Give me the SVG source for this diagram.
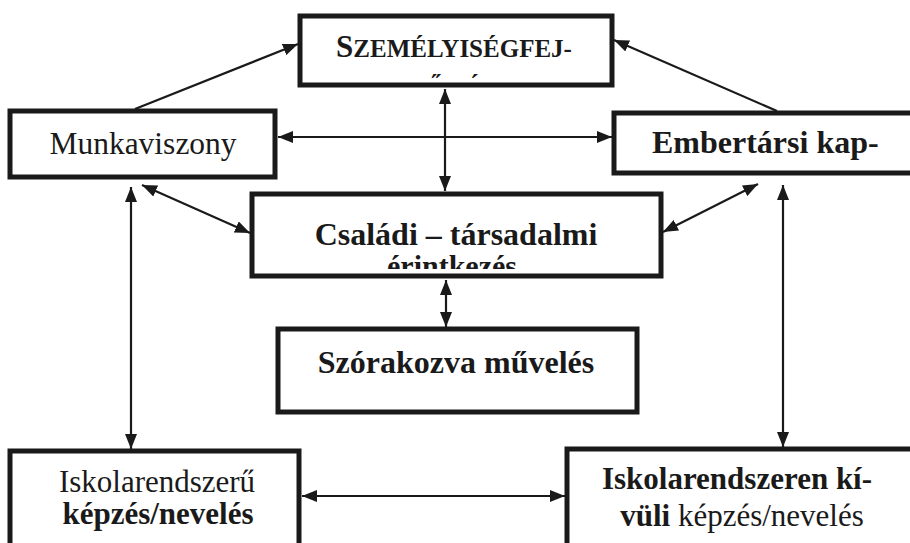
<svg xmlns="http://www.w3.org/2000/svg" width="910" height="543" viewBox="0 0 910 543">
<style>
.box{fill:#fff;stroke:#1a1a1a;stroke-width:5}
.t{font-family:"Liberation Serif","Times New Roman",serif;fill:#1a1a1a}
.b{font-weight:bold}
.c line{stroke:#1a1a1a;stroke-width:2.2}
</style>
<defs>
<marker id="ah" viewBox="0 0 15 12" refX="15" refY="6" markerWidth="15" markerHeight="12" orient="auto-start-reverse" markerUnits="userSpaceOnUse"><path d="M0,0 L15,6 L0,12 Z" fill="#1a1a1a"/></marker>
<clipPath id="cp1"><rect x="300" y="16" width="312" height="62.5"/></clipPath>
<clipPath id="cp2"><rect x="252" y="194" width="409" height="75"/></clipPath>
</defs>
<rect width="910" height="543" fill="#fff"/>
<g id="szemelyiseg">
<rect class="box" x="300" y="16" width="312" height="69"/>
<text class="t b" x="454" y="57" text-anchor="middle" font-size="25"><tspan font-size="31">S</tspan>ZEMÉLYISÉGFEJ-</text>
<text class="t b" x="453" y="96" text-anchor="middle" font-size="25" letter-spacing="1.5" clip-path="url(#cp1)">LŐDÉS</text>
</g>
<g id="munkaviszony">
<rect class="box" x="10" y="111" width="265" height="66"/>
<text class="t" x="143" y="154" text-anchor="middle" font-size="31.5">Munkaviszony</text>
</g>
<g id="embertarsi">
<rect class="box" x="614" y="113" width="305" height="60"/>
<text class="t b" x="652" y="153" font-size="32">Embertársi kap-</text>
</g>
<g id="csaladi">
<rect class="box" x="252" y="194" width="409" height="82"/>
<text class="t b" x="456" y="245" text-anchor="middle" font-size="32">Családi – társadalmi</text>
<text class="t b" x="452" y="276" text-anchor="middle" font-size="30" clip-path="url(#cp2)">érintkezés</text>
</g>
<g id="szorakozva">
<rect class="box" x="278" y="329" width="359" height="83"/>
<text class="t b" x="456" y="373" text-anchor="middle" font-size="32">Szórakozva művelés</text>
</g>
<g id="iskolarendszeru">
<rect class="box" x="10" y="451" width="289" height="110"/>
<text class="t" x="157" y="492" text-anchor="middle" font-size="31">Iskolarendszerű</text>
<text class="t b" x="158" y="524" text-anchor="middle" font-size="31">képzés/nevelés</text>
</g>
<g id="iskolarendszeren-kivuli">
<rect class="box" x="567" y="449" width="352" height="112"/>
<text class="t b" x="737" y="489" text-anchor="middle" font-size="31">Iskolarendszeren kí-</text>
<text class="t" x="742" y="526" text-anchor="middle" font-size="31"><tspan font-weight="bold">vüli</tspan> képzés/nevelés</text>
</g>
<g id="connectors" class="c">
<line x1="135" y1="109" x2="298" y2="44" marker-end="url(#ah)"/>
<line x1="777" y1="111" x2="614" y2="40" marker-end="url(#ah)"/>
<line x1="445" y1="89" x2="445" y2="191" marker-start="url(#ah)" marker-end="url(#ah)"/>
<line x1="278" y1="137" x2="612" y2="137" marker-start="url(#ah)" marker-end="url(#ah)"/>
<line x1="142" y1="185" x2="250" y2="233" marker-start="url(#ah)" marker-end="url(#ah)"/>
<line x1="758" y1="184" x2="663" y2="232" marker-start="url(#ah)" marker-end="url(#ah)"/>
<line x1="446" y1="280" x2="446" y2="327" marker-start="url(#ah)" marker-end="url(#ah)"/>
<line x1="131" y1="187" x2="131" y2="449" marker-start="url(#ah)" marker-end="url(#ah)"/>
<line x1="783" y1="185" x2="783" y2="447" marker-start="url(#ah)" marker-end="url(#ah)"/>
<line x1="302" y1="496" x2="565" y2="496" marker-start="url(#ah)" marker-end="url(#ah)"/>
</g>
</svg>
